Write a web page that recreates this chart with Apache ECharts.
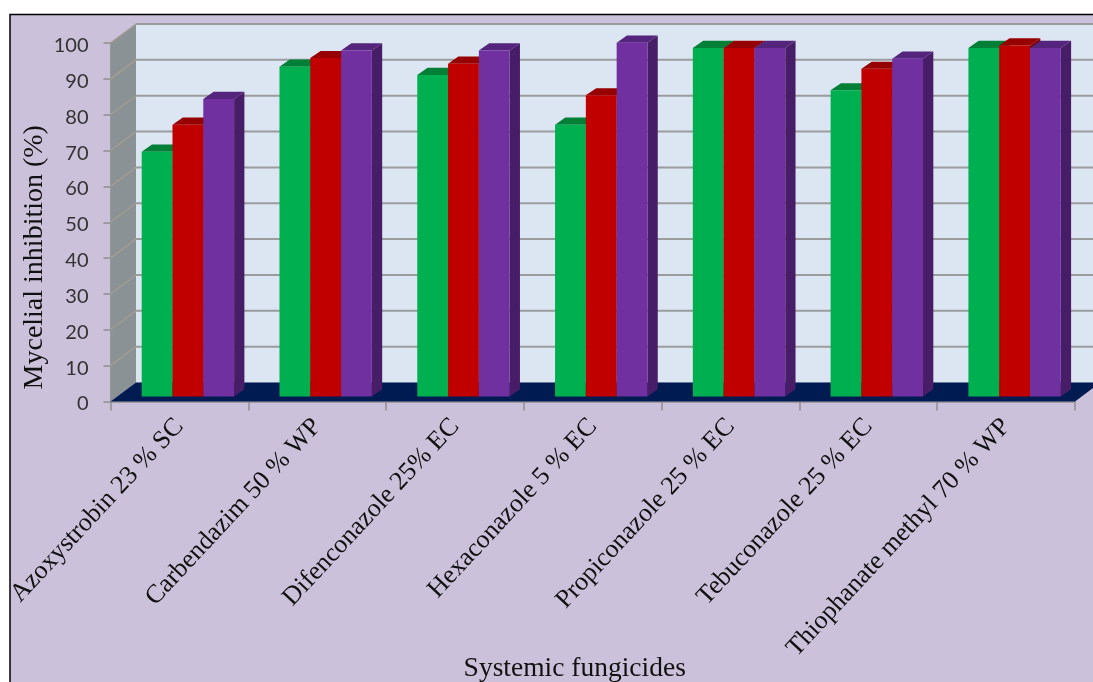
<!DOCTYPE html>
<html><head><meta charset="utf-8">
<style>html,body{margin:0;padding:0;background:#fff}#c{width:1093px;height:682px}</style>
<script src="https://cdn.jsdelivr.net/npm/echarts@6/dist/echarts.min.js"></script>
</head><body><div id="c"></div>
<script>
const categories = ['Azoxystrobin 23 % SC','Carbendazim 50 % WP','Difenconazole 25% EC','Hexaconazole 5 % EC','Propiconazole 25 % EC','Tebuconazole 25 % EC','Thiophanate methyl 70 % WP'];
const greenValues = [68.3,92,89.7,75.8,97.2,85.4,97.2];
const redValues = [75.8,94.4,92.8,84,97.2,91.4,97.9];
const purpleValues = [83,96.5,96.5,98.7,97.2,94.2,97.2];
const yTicks = [10,20,30,40,50,60,70,80,90,100];

const WALL_DX = 25.5, WALL_DY = 19;      // box depth projection
const PLANE_DX = 7, PLANE_DY = 5;        // bar front plane inside the box
const BAR_DX = 10.3, BAR_DY = 7.2;       // bar depth projection
const BAR_W = 30.8;
const GROUP_SHIFT = 1.5;

function wallItem(params, api){
  const cs = params.coordSys, l = cs.x, r = cs.x + cs.width, t = cs.y, b = cs.y + cs.height;
  return {type:'group', children:[
    {type:'polygon', shape:{points:[[l+WALL_DX,t-WALL_DY],[r+WALL_DX,t-WALL_DY],[r+WALL_DX,b-WALL_DY],[l+WALL_DX,b-WALL_DY]]}, style:{fill:'#dce6f2'}},
    {type:'polygon', shape:{points:[[l,t],[l+WALL_DX,t-WALL_DY],[l+WALL_DX,b-WALL_DY],[l,b]]}, style:{fill:'#8b9296'}},
    {type:'polygon', shape:{points:[[l,b],[l+WALL_DX,b-WALL_DY],[r+WALL_DX,b-WALL_DY],[r,b]]}, style:{fill:'#001a52'}}
  ]};
}
function gridItem(params, api){
  const cs = params.coordSys, l = cs.x, r = cs.x + cs.width;
  const y = api.coord([0, api.value(0)])[1];
  return {type:'group', children:[
    {type:'line', shape:{x1:l,y1:y,x2:l+WALL_DX,y2:y-WALL_DY}, style:{stroke:'#a39c92',lineWidth:1.4}},
    {type:'line', shape:{x1:l+WALL_DX,y1:y-WALL_DY,x2:r+WALL_DX,y2:y-WALL_DY}, style:{stroke:'#9a9c9e',lineWidth:2}}
  ]};
}
function barItem(offset, front, top, side){
  return function(params, api){
    const c = api.coord([api.value(0), api.value(1)]);
    const base = api.coord([api.value(0), 0]);
    const x = c[0] + GROUP_SHIFT + PLANE_DX + offset * BAR_W - BAR_W/2;
    const yt = c[1] - PLANE_DY, yb = base[1] - PLANE_DY;
    return {type:'group', children:[
      {type:'polygon', shape:{points:[[x+BAR_W,yt],[x+BAR_W+BAR_DX,yt-BAR_DY],[x+BAR_W+BAR_DX,yb-BAR_DY],[x+BAR_W,yb]]}, style:{fill:side}},
      {type:'polygon', shape:{points:[[x,yt],[x+BAR_DX,yt-BAR_DY],[x+BAR_W+BAR_DX,yt-BAR_DY],[x+BAR_W,yt]]}, style:{fill:top}},
      {type:'rect', shape:{x:x,y:yt,width:BAR_W,height:yb-yt}, style:{fill:front}}
    ]};
  };
}
function rows(vals){ return vals.map((v,i)=>[i,v]); }

const chart = echarts.init(document.getElementById('c'), null, {renderer:'canvas'});
chart.setOption({
  animation:false,
  backgroundColor:'#ffffff',
  graphic:[{type:'rect', z:-1, silent:true, shape:{x:10,y:14.5,width:1090,height:675},
    style:{fill:'#ccc1da',stroke:'#000',lineWidth:1.5}}],
  grid:{left:110.5,right:18,top:43,bottom:280.5,containLabel:false,outerBoundsMode:'none'},
  xAxis:{type:'category',data:categories,
    name:'Systemic fungicides',nameLocation:'middle',nameGap:253,nameMoveOverlap:false,
    nameTextStyle:{fontFamily:'Liberation Serif',fontSize:27.5,color:'#111',padding:[0,36,0,0]},
    axisLine:{lineStyle:{color:'#8f8f8f',width:1.5}},
    axisTick:{show:true,length:9,lineStyle:{color:'#8f8f8f',width:1.5}},
    axisLabel:{interval:0,rotate:47,margin:21,fontFamily:'Liberation Serif',fontSize:26,color:'#111'},
    splitLine:{show:false}},
  yAxis:{type:'value',min:0,max:100,interval:10,
    name:'Mycelial inhibition (%)',nameLocation:'middle',nameGap:62,nameRotate:90,nameMoveOverlap:false,
    nameTextStyle:{fontFamily:'Liberation Serif',fontSize:28,color:'#111',padding:[0,70,0,0]},
    axisLine:{show:true,lineStyle:{color:'#8f8f8f',width:1.5}},
    axisTick:{show:true,length:7,lineStyle:{color:'#8f8f8f',width:1.5}},
    axisLabel:{margin:22,formatter:'{v|{value}}',
      rich:{v:{padding:[5,0,0,0],fontFamily:'Lato',fontSize:20,color:'#333'}}},
    splitLine:{show:false}},
  series:[
    {type:'custom',name:'Wall',z:1,clip:false,silent:true,data:[[0]],encode:{x:-1,y:-1},renderItem:wallItem},
    {type:'custom',name:'Grid',z:1,clip:false,silent:true,data:yTicks.map(t=>[t]),encode:{x:-1,y:-1},renderItem:gridItem},
    {type:'custom',name:'Green',z:3,clip:false,data:rows(greenValues),encode:{x:0,y:1},renderItem:barItem(-1,'#00b050','#007f36','#007a36')},
    {type:'custom',name:'Red',z:3,clip:false,data:rows(redValues),encode:{x:0,y:1},renderItem:barItem(0,'#c00000','#960000','#860000')},
    {type:'custom',name:'Purple',z:3,clip:false,data:rows(purpleValues),encode:{x:0,y:1},renderItem:barItem(1,'#7030a0','#55247c','#471d68')}
  ]
});
</script></body></html>
